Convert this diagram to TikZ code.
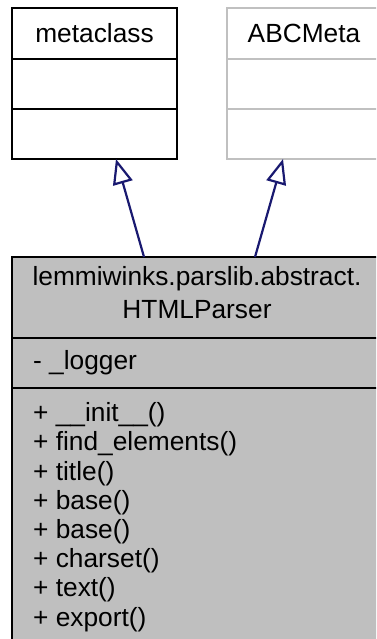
\documentclass[tikz,border=0pt]{standalone}
\usepackage{fontspec}
\setmainfont{Liberation Sans}
\usetikzlibrary{arrows.meta}
\definecolor{edgeblue}{HTML}{191970}
\definecolor{boxgray}{HTML}{BFBFBF}
\definecolor{pale}{HTML}{C0C0C0}
\tikzset{
  boxline/.style={line width=2.2pt},
  txt/.style={inner sep=0pt, font=\fontsize{26.3}{29.2}\selectfont},
  inherit/.style={draw=edgeblue, line width=2.2pt, -{Triangle[open, length=25pt, width=20pt, fill=white]}},
}
\begin{document}
\begin{tikzpicture}[x=1pt,y=-1pt]
\useasboundingbox (0,0) rectangle (376,639);
\clip (0,0) rectangle (376,639);
% metaclass
\draw[boxline, fill=white] (12,8) rectangle (177,159);
\draw[boxline] (12,59) -- (177,59);
\draw[boxline] (12,109) -- (177,109);
\node[txt] (meta) at (94.5,33) {metaclass};
\coordinate (metabot) at (116,159);
% ABCMeta
\draw[boxline, draw=pale, fill=white] (227,8) rectangle (390,159);
\draw[boxline, draw=pale] (227,59) -- (390,59);
\draw[boxline, draw=pale] (227,109) -- (390,109);
\node[txt] (abc) at (304,33) {ABCMeta};
\coordinate (abcbot) at (283,159);
% HTMLParser
\draw[boxline, fill=boxgray] (12,257) rectangle (390,660);
\draw[boxline] (12,338) -- (390,338);
\draw[boxline] (12,388) -- (390,388);
\node[txt] (t1) at (197,279) {lemmiwinks.parslib.abstract.};
\node[txt] (t2) at (197,310) {HTMLParser};
\node[txt, anchor=west] (attr) at (33,363) {- \_logger};
\node[txt, anchor=north west, align=left] (ops) at (33,402.5) {+ \_\_init\_\_()\\+ find\_elements()\\+ title()\\+ base()\\+ base()\\+ charset()\\+ text()\\+ export()};
\coordinate (c1) at (144,257);
\coordinate (c2) at (255,257);
\draw[inherit] (c1) -- (metabot);
\draw[inherit] (c2) -- (abcbot);
\end{tikzpicture}
\end{document}
